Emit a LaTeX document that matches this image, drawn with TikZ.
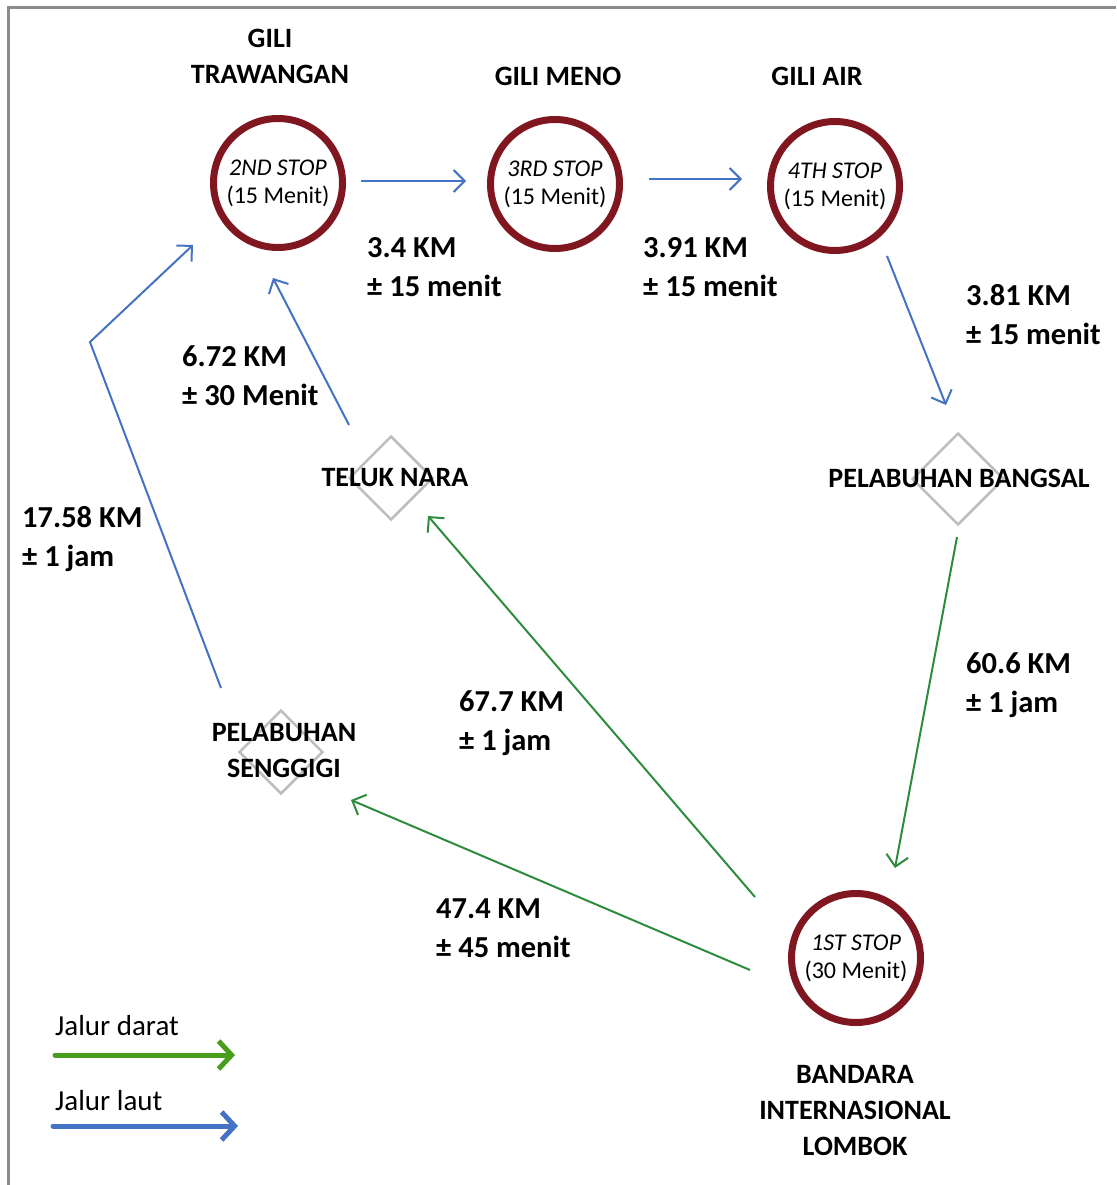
\documentclass[tikz,border=0pt]{standalone}
\usepackage{fontspec}
\setmainfont{Carlito}
\usetikzlibrary{shapes.geometric,arrows.meta}
\definecolor{stopred}{RGB}{128,22,32}
\definecolor{seablue}{RGB}{68,114,196}
\definecolor{landgreen}{RGB}{46,140,62}
\definecolor{leggreen}{RGB}{72,158,28}
\definecolor{diagray}{RGB}{190,190,190}
\definecolor{framegray}{RGB}{140,140,140}
\tikzset{
  stopcircle/.style={circle,draw=stopred,line width=7pt,minimum size=129pt,inner sep=0pt,align=center,font=\fontsize{24}{28}\selectfont},
  portdia/.style={diamond,draw=diagray,line width=2.5pt,inner sep=0pt,aspect=1},
  title/.style={align=center,inner sep=0pt,font=\bfseries\fontsize{28}{36}\selectfont},
  dist/.style={align=left,inner sep=0pt,anchor=north west,font=\bfseries\fontsize{30.5}{39}\selectfont},
  barb/.style={-{Straight Barb[length=11pt,width=22pt,line width=2pt]}},
  sea/.style={barb,draw=seablue,line width=2pt},
  land/.style={barb,draw=landgreen,line width=2pt},
  legtext/.style={anchor=west,inner sep=0pt,font=\fontsize{29}{30}\selectfont},
}
\begin{document}
\begin{tikzpicture}[x=1pt,y=-1pt]
\useasboundingbox (0,0) rectangle (1116,1185);
\draw[framegray,line width=3pt] (8,1185) -- (8,8) -- (1116,8);

% stops
\node[stopcircle] (tra) at (278,183) {\textit{2ND STOP}\\(15 Menit)};
\node[stopcircle] (men) at (555,184) {\textit{3RD STOP}\\(15 Menit)};
\node[stopcircle] (air) at (835,186) {\textit{4TH STOP}\\(15 Menit)};
\node[stopcircle] (bil) at (856,958) {\textit{1ST STOP}\\(30 Menit)};

% titles
\node[title] (ttra) at (270,56) {GILI\\TRAWANGAN};
\node[title] (tmen) at (558,76) {GILI MENO};
\node[title] (tair) at (817,76) {GILI AIR};
\node[title] (tbil) at (855,1111) {BANDARA\\INTERNASIONAL\\LOMBOK};

% ports
\node[portdia,minimum size=84pt] (dtn) at (391,478) {};
\node[portdia,minimum size=92pt] (dbg) at (958,479) {};
\node[portdia,minimum size=84pt] (dsg) at (281,752) {};
\node[title] (ltn) at (395,478) {TELUK NARA};
\node[title] (lbg) at (959,478) {PELABUHAN BANGSAL};
\node[title] (lsg) at (284,751) {PELABUHAN\\SENGGIGI};

% connector end points
\coordinate (a1s) at (361,181); \coordinate (a1e) at (466,181);
\coordinate (a2s) at (649,179); \coordinate (a2e) at (742,179);
\coordinate (a3s) at (887,256); \coordinate (a3e) at (946,405);
\coordinate (a4s) at (957,537); \coordinate (a4e) at (895,868);
\coordinate (a5s) at (755,897); \coordinate (a5e) at (428,516);
\coordinate (a6s) at (750,970); \coordinate (a6e) at (351,800);
\coordinate (a7s) at (349,425); \coordinate (a7e) at (273,278);
\coordinate (a8s) at (221,688); \coordinate (a8m) at (90,342); \coordinate (a8e) at (193,245);

\draw[sea] (a1s) -- (a1e);
\draw[sea] (a2s) -- (a2e);
\draw[sea] (a3s) -- (a3e);
\draw[land] (a4s) -- (a4e);
\draw[land] (a5s) -- (a5e);
\draw[land] (a6s) -- (a6e);
\draw[sea] (a7s) -- (a7e);
\draw[sea] (a8s) -- (a8m) -- (a8e);

% distance labels
\node[dist] (d1) at (367,237) {3.4 KM\\± 15 menit};
\node[dist] (d2) at (643,237) {3.91 KM\\± 15 menit};
\node[dist] (d3) at (966,284) {3.81 KM\\± 15 menit};
\node[dist] (d4) at (182,345) {6.72 KM\\± 30 Menit};
\node[dist] (d5) at (22,506) {17.58 KM\\± 1 jam};
\node[dist] (d6) at (966,652) {60.6 KM\\± 1 jam};
\node[dist] (d7) at (459,690) {67.7 KM\\± 1 jam};
\node[dist] (d8) at (436,898) {47.4 KM\\± 45 menit};

% legend
\node[legtext] (lgd) at (55,1026) {Jalur darat};
\node[legtext] (lgl) at (55,1101) {Jalur laut};
\coordinate (lg1s) at (55,1055); \coordinate (lg1e) at (235,1055);
\coordinate (lg2s) at (53,1126); \coordinate (lg2e) at (238,1126);
\draw[draw=leggreen,line width=5pt,line cap=round,-{Straight Barb[length=13pt,width=28pt,line width=5pt]}] (lg1s) -- (lg1e);
\draw[draw=seablue,line width=5pt,line cap=round,-{Straight Barb[length=13pt,width=28pt,line width=5pt]}] (lg2s) -- (lg2e);
\end{tikzpicture}
\end{document}
